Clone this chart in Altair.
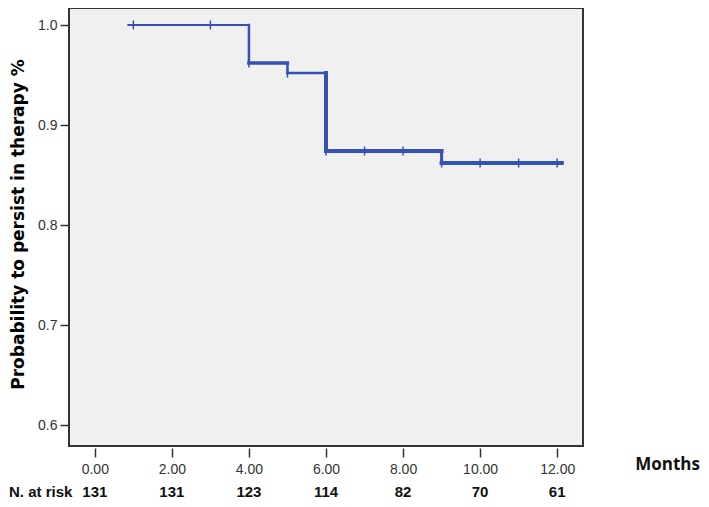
import altair as alt
import pandas as pd

# Kaplan-Meier step data (months, survival probability)
step_times = [0.87, 4, 5, 6, 9, 12.12]
surv_levels = [1.0, 0.962, 0.952, 0.874, 0.862]
# censor marks
censor_times = [1, 3, 4, 5, 6, 7, 8, 9, 10, 11, 12]
censor_surv = [1.0, 1.0, 0.962, 0.952, 0.874, 0.874, 0.874, 0.862, 0.862, 0.862, 0.862]
# numbers at risk
risk_months = [0, 2, 4, 6, 8, 10, 12]
risk_n = [131, 131, 123, 114, 82, 70, 61]
x_ticks = [0, 2, 4, 6, 8, 10, 12]
y_ticks = [0.6, 0.7, 0.8, 0.9, 1.0]

# line widths of horizontal and vertical segments (style only)
h_widths = [2, 3.5, 2.5, 4, 4]
v_widths = [2.5, 2.5, 4, 3]

BLUE = "#3452B4"

segs = []
for i, s in enumerate(surv_levels):
    segs.append({"x": step_times[i], "x2": step_times[i + 1], "y": s, "y2": s, "w": h_widths[i]})
for i in range(len(surv_levels) - 1):
    segs.append({"x": step_times[i + 1], "x2": step_times[i + 1], "y": surv_levels[i],
                 "y2": surv_levels[i + 1], "w": v_widths[i]})
seg_df = pd.DataFrame(segs)
cen_df = pd.DataFrame({"x": censor_times, "y": censor_surv})
risk_df = pd.DataFrame({"x": risk_months, "n": risk_n})

xs = alt.Scale(domain=[-0.67, 12.67], nice=False, zero=False)
ys = alt.Scale(domain=[0.579, 1.017], nice=False, zero=False)

x_axis = alt.Axis(values=x_ticks, format=".2f", tickSize=9, offset=2, labelPadding=5,
                  labelFont="Liberation Sans", labelFontSize=14, labelColor="#333",
                  tickColor="#333", tickWidth=1.5, domain=False, grid=False, title=None)
y_axis = alt.Axis(values=y_ticks, format=".1f", tickSize=9, labelPadding=3,
                  labelFont="Liberation Sans", labelFontSize=14, labelColor="#333",
                  tickColor="#333", tickWidth=1.5, domain=False, grid=False,
                  title="Probability to persist in therapy %", titleFont="DejaVu Sans",
                  titleFontSize=17, titleFontWeight="bold", titleColor="black",
                  titleX=-46, titleY=216, titleAngle=-90, titleBaseline="alphabetic",
                  titleAlign="center")

X = alt.X("x:Q", scale=xs, axis=x_axis)
Y = alt.Y("y:Q", scale=ys, axis=y_axis)

lines = alt.Chart(seg_df).mark_rule(color=BLUE, strokeCap="square").encode(
    x=X,
    x2="x2:Q",
    y=Y,
    y2="y2:Q",
    strokeWidth=alt.StrokeWidth("w:Q", scale=None, legend=None),
)

cens = alt.Chart(cen_df).mark_rule(color=BLUE, strokeWidth=1.5, yOffset=-4.5, y2Offset=4.5).encode(
    x=X,
    y=Y,
    y2="y:Q",
)

risk = alt.Chart(risk_df).mark_text(font="Liberation Sans", fontSize=15, fontWeight="bold",
                                    color="#111", baseline="alphabetic", align="center").encode(
    x=X,
    y=alt.value(489),
    text="n:Q",
)

risk_lbl = alt.Chart(pd.DataFrame({"t": ["N. at risk"]})).mark_text(
    font="Liberation Sans", fontSize=15, fontWeight="bold", color="#111",
    baseline="alphabetic", align="left").encode(
    x=alt.value(-60), y=alt.value(489), text="t:N")

months_lbl = alt.Chart(pd.DataFrame({"t": ["Months"]})).mark_text(
    font="Open Sans", fontSize=17, fontWeight="bold", color="#111",
    baseline="alphabetic", align="right").encode(
    x=alt.value(631), y=alt.value(462), text="t:N")

chart = alt.layer(lines, cens, risk, risk_lbl, months_lbl).properties(
    width=514, height=438,
    autosize=alt.AutoSizeParams(type="none"),
    padding={"left": 61, "top": 0, "right": 118, "bottom": 53},
).configure_view(fill="#F0F0F0", stroke="#333", strokeWidth=2)

chart.save("out.html", embed_options={"renderer": "svg", "actions": False})
